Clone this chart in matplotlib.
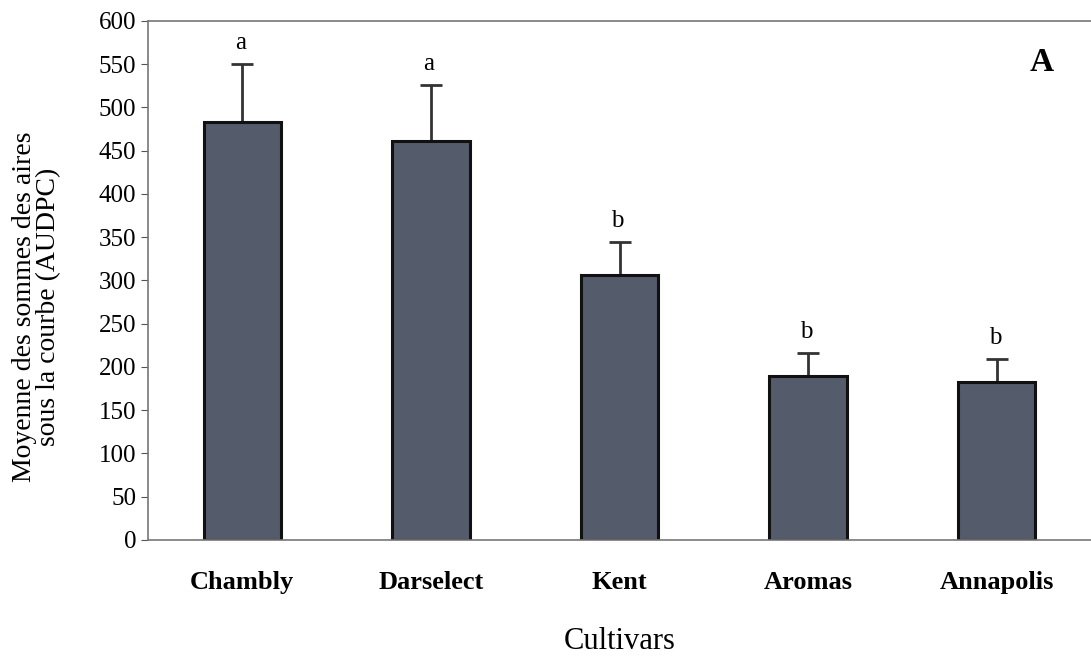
import matplotlib.pyplot as plt
import numpy as np

plt.rcParams['font.family'] = ['Liberation Serif', 'DejaVu Serif']

cultivars = ['Chambly', 'Darselect', 'Kent', 'Aromas', 'Annapolis']
audpc = [483, 461, 306, 190, 183]
err_up = [67, 65, 38, 26, 26]
letters = ['a', 'a', 'b', 'b', 'b']

fig = plt.figure(figsize=(10.91, 6.62), dpi=100)
ax = fig.add_axes([0.1357, 0.1843, 0.8643, 0.784])

x = np.arange(len(cultivars))
ax.bar(x, audpc, width=0.41, color='#545b6a', edgecolor='#111111', linewidth=2.2, zorder=2)
ax.errorbar(x, audpc, yerr=[np.zeros(len(audpc)), err_up], fmt='none',
            ecolor='#333333', elinewidth=2, capsize=8, capthick=2, zorder=1)

for xi, v, e, lab in zip(x, audpc, err_up, letters):
    ax.text(xi - 0.01, v + e + 12, lab, ha='center', va='bottom', fontsize=18)

ax.text(0.948, 0.92, 'A', transform=ax.transAxes, fontsize=24, fontweight='bold',
        ha='center', va='center')

ax.set_xlim(-0.5, 4.5)
ax.set_ylim(0, 600)
ax.set_yticks(range(0, 601, 50))
ax.set_xticks(x)
ax.set_xticklabels(cultivars, fontsize=19, fontweight='bold')
ax.tick_params(axis='x', length=0, pad=22)
ax.tick_params(axis='y', labelsize=18, length=5, color='#555555')
ax.set_xlabel('Cultivars', fontsize=22, labelpad=24)
ax.set_ylabel('Moyenne des sommes des aires\nsous la courbe (AUDPC)', fontsize=20,
              linespacing=0.95)
ax.yaxis.set_label_coords(-0.092, 0.45)

ax.spines['right'].set_visible(False)
for s in ['top', 'bottom', 'left']:
    ax.spines[s].set_color('#777777')
    ax.spines[s].set_linewidth(1.2)

fig.savefig('out.png', dpi=100)
